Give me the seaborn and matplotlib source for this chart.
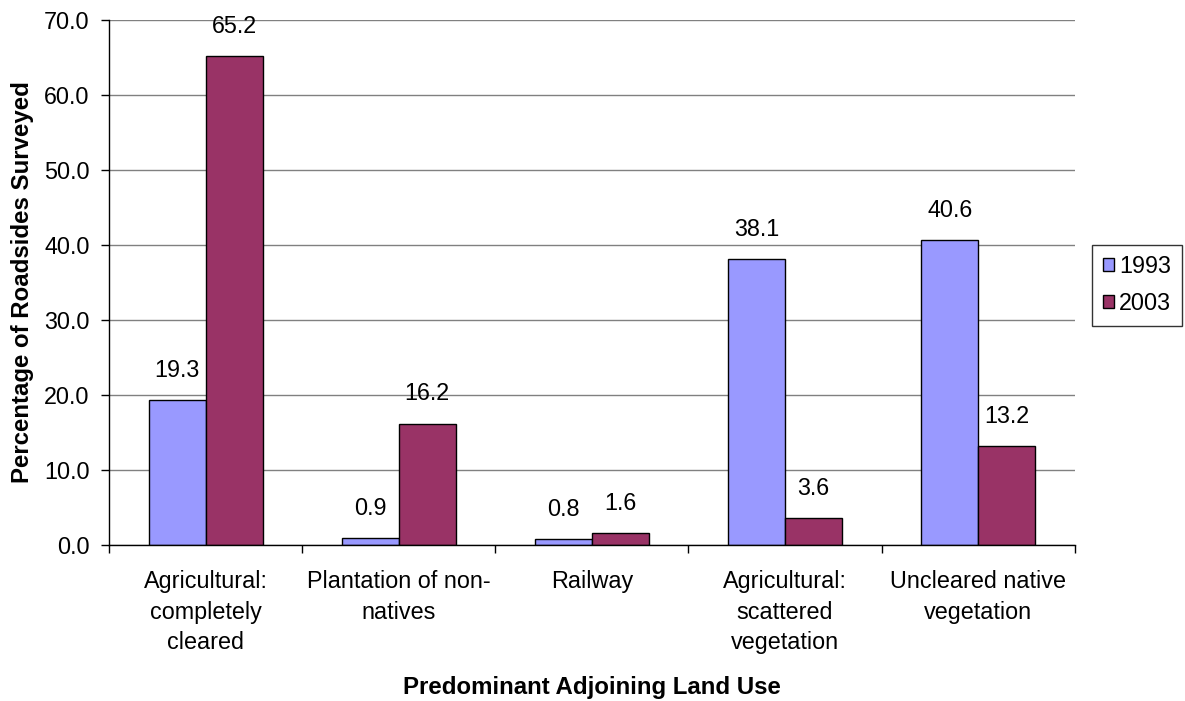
import matplotlib
matplotlib.use("Agg")
import matplotlib.pyplot as plt
import seaborn as sns
import pandas as pd
import numpy as np
from matplotlib.ticker import MultipleLocator, FixedLocator

categories = ["Agricultural:\ncompletely\ncleared", "Plantation of non-\nnatives", "Railway",
              "Agricultural:\nscattered\nvegetation", "Uncleared native\nvegetation"]
values_1993 = [19.3, 0.9, 0.8, 38.1, 40.6]
values_2003 = [65.2, 16.2, 1.6, 3.6, 13.2]
years = ["1993", "2003"]
colors = ["#9999FF", "#993366"]

df = pd.DataFrame({
    "Land use": categories * 2,
    "Year": [years[0]] * len(categories) + [years[1]] * len(categories),
    "Percent": values_1993 + values_2003,
})

sns.set_style("white")
plt.rcParams["font.family"] = ["Liberation Sans", "DejaVu Sans"]
plt.rcParams["text.color"] = "black"
plt.rcParams["axes.labelcolor"] = "black"
plt.rcParams["xtick.color"] = "black"
plt.rcParams["ytick.color"] = "black"

FS = 16.8
FS_BOLD = 17.3

fig = plt.figure(figsize=(11.85, 7.01), dpi=100)
ax = fig.add_axes([0.092, 0.2225, 0.815, 0.749])

sns.barplot(data=df, x="Land use", y="Percent", hue="Year", palette=colors,
            width=0.59, edgecolor="black", linewidth=1.0, ax=ax, legend=True,
            saturation=1)

ax.set_xlim(-0.5, len(categories) - 0.5)
ax.set_ylim(0, 70)
ax.yaxis.set_major_locator(MultipleLocator(10))
ax.set_yticklabels([f"{v:.1f}" for v in ax.get_yticks()], fontsize=FS)
ax.grid(axis="y", color="#808080", linewidth=1.0)
ax.set_axisbelow(True)

for side in ["top", "right"]:
    ax.spines[side].set_visible(False)
for side in ["left", "bottom"]:
    ax.spines[side].set_color("black")
    ax.spines[side].set_linewidth(1.0)

ax.tick_params(axis="y", which="major", length=6, width=1, color="black", left=True, pad=8)
ax.tick_params(axis="x", which="major", length=0, pad=18)
ax.set_xticks(range(len(categories)))
ax.set_xticklabels(categories, fontsize=FS, linespacing=1.42)
ax.xaxis.set_minor_locator(FixedLocator(np.arange(-0.5, len(categories), 1.0)))
ax.tick_params(axis="x", which="minor", length=6, width=1, color="black", bottom=True)

for container in ax.containers:
    ax.bar_label(container, fmt="%.1f", padding=13, fontsize=FS, color="black")

ax.set_xlabel("Predominant Adjoining Land Use", fontsize=FS_BOLD, fontweight="bold", labelpad=16)
ax.set_ylabel("Percentage of Roadsides Surveyed", fontsize=FS_BOLD, fontweight="bold", labelpad=7)

leg = ax.legend(title=None, loc="center left", bbox_to_anchor=(1.018, 0.495),
                fontsize=FS, frameon=True, fancybox=False, edgecolor="black",
                handlelength=0.5, handleheight=0.5, handletextpad=0.2,
                labelspacing=0.6, borderpad=0.45, borderaxespad=0)
leg.get_frame().set_linewidth(1.0)

fig.savefig("out.png", dpi=100)
